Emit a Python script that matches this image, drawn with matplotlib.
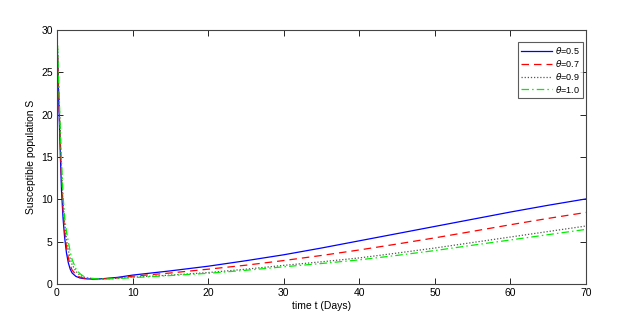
import matplotlib
matplotlib.use('Agg')
import matplotlib.pyplot as plt

plt.rcParams['font.family'] = ['Liberation Sans', 'DejaVu Sans']
plt.rcParams['mathtext.fontset'] = 'dejavusans'

# time points (days)
t = [0, 0.15, 0.3, 0.45, 0.6, 0.8, 1.0, 1.25, 1.5, 1.75, 2, 2.5, 3, 3.5, 4, 5, 6, 7, 8,
     10, 15, 20, 25, 30, 35, 40, 45, 50, 55, 60, 65, 70]

# susceptible population for each theta
s_05 = [30, 24, 19.5, 15, 11, 7.8, 5.6, 3.7, 2.5, 1.75, 1.3, 0.9, 0.72, 0.64, 0.6, 0.58, 0.62, 0.7, 0.78,
        1.05, 1.55, 2.1, 2.75, 3.45, 4.25, 5.1, 5.95, 6.8, 7.65, 8.5, 9.3, 10.05]
s_07 = [30, 24.8, 20.5, 16.2, 12.3, 8.8, 6.4, 4.4, 3.1, 2.2, 1.65, 1.1, 0.82, 0.7, 0.63, 0.59, 0.61, 0.66, 0.72,
        0.92, 1.3, 1.75, 2.22, 2.77, 3.37, 4.02, 4.72, 5.45, 6.22, 7.0, 7.75, 8.45]
s_09 = [30, 25.5, 21.3, 17.2, 13.4, 9.8, 7.3, 5.3, 4.0, 3.0, 2.3, 1.5, 1.05, 0.83, 0.72, 0.62, 0.6, 0.63, 0.67,
        0.8, 1.05, 1.35, 1.75, 2.2, 2.62, 3.08, 3.65, 4.25, 4.9, 5.55, 6.2, 6.85]
s_10 = [30, 26, 22, 18, 14.5, 10.5, 8.0, 6.2, 5.0, 3.8, 2.9, 1.8, 1.25, 0.92, 0.76, 0.62, 0.58, 0.6, 0.64,
        0.75, 1.0, 1.26, 1.62, 2.03, 2.42, 2.85, 3.38, 3.95, 4.58, 5.2, 5.83, 6.45]

fig = plt.figure(figsize=(6.36, 3.32), dpi=100)
ax = fig.add_axes([0.0896, 0.1446, 0.8318, 0.765])

ax.plot(t, s_05, color='b', linestyle='-', linewidth=0.9, label=r'$\theta$=0.5')
ax.plot(t, s_07, color='r', linestyle=(0, (6, 4)), linewidth=0.9, label=r'$\theta$=0.7')
ax.plot(t, s_09, color='#555555', linestyle=(0, (1, 1.5)), linewidth=0.9, label=r'$\theta$=0.9')
ax.plot(t, s_10, color='#00ee00', linestyle=(0, (6, 2.5, 1.2, 2.5)), linewidth=0.9, label=r'$\theta$=1.0')

ax.set_xlim(0, 70)
ax.set_ylim(0, 30)
ax.set_xticks(range(0, 71, 10))
ax.set_yticks(range(0, 31, 5))
ax.tick_params(direction='in', top=True, right=True, labelsize=7.5, length=4, width=0.6, pad=3)
for sp in ax.spines.values():
    sp.set_color('#444444')
    sp.set_linewidth(0.8)

ax.set_xlabel('time t (Days)', fontsize=7.5, labelpad=2)
ax.set_ylabel('Susceptible population S', fontsize=7.5, labelpad=4)

leg = ax.legend(loc='upper right', fontsize=6.5, frameon=True, fancybox=False,
                handlelength=3.4, handletextpad=0.3, borderpad=0.35, labelspacing=0.2,
                borderaxespad=0, bbox_to_anchor=(0.994, 0.953))
leg.get_frame().set_edgecolor('#333333')
leg.get_frame().set_linewidth(0.8)

fig.savefig('out.png', dpi=100)
